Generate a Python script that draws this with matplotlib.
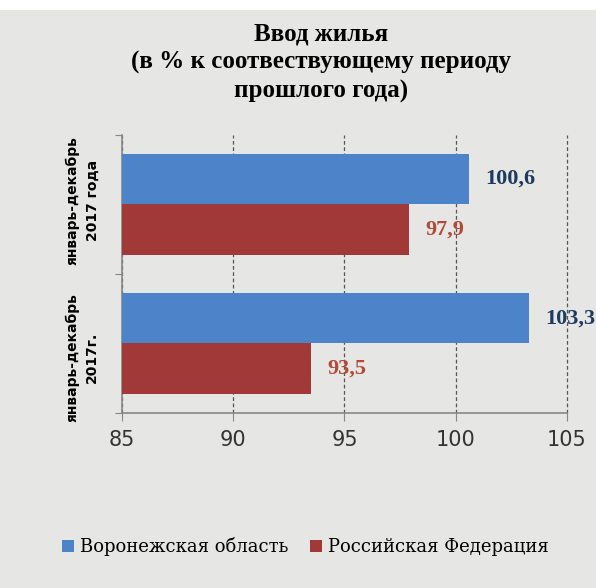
import matplotlib
matplotlib.use("Agg")
import matplotlib.pyplot as plt
import numpy as np

# data
categories = ["январь-декабрь\n2017г.", "январь-декабрь\n2017 года"]
series_names = ["Воронежская область", "Российская Федерация"]
voronezh = [103.3, 100.6]
russia = [93.5, 97.9]
xticks = [85, 90, 95, 100, 105]

blue = "#4d83c8"
red = "#a23939"
bg = "#e6e6e4"

fig = plt.figure(figsize=(5.96, 5.88), dpi=100)
fig.patch.set_facecolor("white")
# gray panel under everything (white strip on top like the source)
fig.patches.append(plt.Rectangle((0, 0), 1, 0.983, transform=fig.transFigure,
                                 facecolor=bg, edgecolor="none", zorder=-10))

ax = fig.add_axes([0.205, 0.2976, 0.746, 0.473])
ax.set_facecolor("none")

y = np.arange(len(categories))
h = 0.365
b1 = ax.barh(y + h / 2, np.array(voronezh) - 85, left=85, height=h, color=blue, label=series_names[0], zorder=3)
b2 = ax.barh(y - h / 2, np.array(russia) - 85, left=85, height=h, color=red, label=series_names[1], zorder=3)

for bars, vals, col in [(b1, voronezh, "#1f3a60"), (b2, russia, "#b24a38")]:
    for rect, v in zip(bars, vals):
        ax.annotate(("%.1f" % v).replace(".", ","),
                    (rect.get_x() + rect.get_width(), rect.get_y() + rect.get_height() / 2),
                    xytext=(12, 0), textcoords="offset points", va="center", ha="left",
                    fontsize=16, fontweight="bold", color=col, family="Liberation Serif",
                    zorder=5)

ax.set_xlim(85, 105)
ax.set_ylim(-0.5, 1.5)
ax.set_xticks(xticks)
ax.set_xticklabels([str(t) for t in xticks], fontsize=15, family="DejaVu Sans", color="#333333")
ax.set_yticks([-0.5, 0.5, 1.5])
ax.set_yticklabels(["", "", ""])
ax.tick_params(axis="x", length=6, color="#888888", pad=6)
ax.tick_params(axis="y", length=5, color="#888888")
ax.grid(axis="x", linestyle=(0, (3, 2)), color="#555555", linewidth=0.9, zorder=0)
for gl in ax.get_xgridlines():
    gl.set_clip_on(False)
for s in ["top", "right"]:
    ax.spines[s].set_visible(False)
for s in ["left", "bottom"]:
    ax.spines[s].set_color("#888888")
    ax.spines[s].set_linewidth(1.2)

# category labels, rotated (slightly shifted like the source)
label_shift = [-0.1, 0.03]
for yi, cat, dy in zip(y, categories, label_shift):
    ax.text(-0.09, yi + dy, cat, transform=ax.get_yaxis_transform(), rotation=90,
            ha="center", va="center", fontsize=10, fontweight="bold",
            family="DejaVu Sans", linespacing=1.55)

fig.text(0.539, 0.893, "Ввод жилья\n(в % к соотвествующему периоду\nпрошлого года)",
         ha="center", va="center", fontsize=18, fontweight="bold",
         family="Liberation Serif", linespacing=1.28)

fig.legend(handles=[b1, b2], labels=series_names, loc="center", bbox_to_anchor=(0.512, 0.07),
           ncol=2, frameon=False, handlelength=0.7, handleheight=0.7,
           handletextpad=0.3, columnspacing=1.2, prop={"family": "DejaVu Serif", "size": 13})

fig.savefig("out.png", dpi=100, facecolor=fig.get_facecolor())
